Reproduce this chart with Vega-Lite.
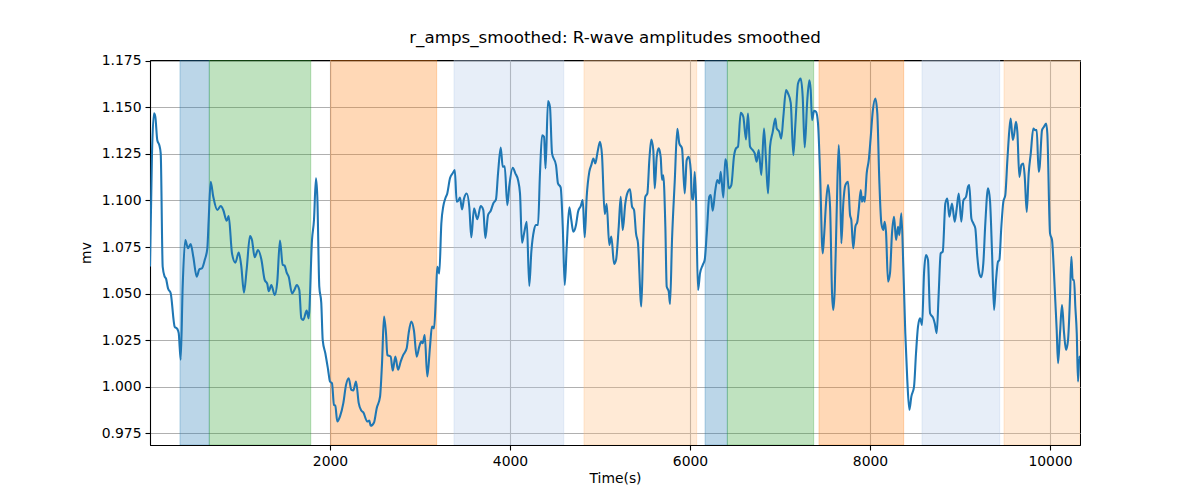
{
  "$schema": "https://vega.github.io/schema/vega-lite/v6.json",
  "width": 930,
  "height": 385,
  "autosize": {"type": "none"},
  "padding": {"left": 150, "top": 60, "right": 120, "bottom": 55},
  "background": "white",
  "config": {
    "font": "DejaVu Sans",
    "view": {"stroke": "black", "strokeWidth": 1},
    "axis": {
      "labelFont": "DejaVu Sans", "labelFontSize": 13.9, "labelColor": "black",
      "titleFont": "DejaVu Sans", "titleFontSize": 13.9, "titleFontWeight": "normal", "titleColor": "black",
      "tickColor": "black", "tickSize": 5, "tickWidth": 1.1,
      "domainColor": "black", "domainWidth": 1.1,
      "gridColor": "#b0b0b0", "gridWidth": 1.1, "labelPadding": 4
    }
  },
  "title": {"text": "r_amps_smoothed: R-wave amplitudes smoothed", "fontSize": 16.7, "fontWeight": "normal", "font": "DejaVu Sans", "color": "black", "anchor": "middle", "offset": 7},
  "datasets": {
    "bands": [
      {"start": 333, "end": 659, "k": "b"},
      {"start": 659, "end": 1786, "k": "g"},
      {"start": 2008, "end": 3185, "k": "o"},
      {"start": 3378, "end": 4597, "k": "lb"},
      {"start": 4822, "end": 6074, "k": "lo"},
      {"start": 6167, "end": 6415, "k": "b"},
      {"start": 6415, "end": 7374, "k": "g"},
      {"start": 7433, "end": 8374, "k": "o"},
      {"start": 8578, "end": 9441, "k": "lb"},
      {"start": 9489, "end": 10333, "k": "lo"}
    ],
    "amps": [
      {"t":0,"v":1.065},{"t":22,"v":1.125},{"t":44,"v":1.1468},{"t":59,"v":1.145},{"t":81,"v":1.1324},{"t":103,"v":1.1298},{"t":119,"v":1.1253},{"t":141,"v":1.0644},{"t":163,"v":1.0591},{"t":178,"v":1.058},{"t":200,"v":1.0528},{"t":230,"v":1.0501},{"t":274,"v":1.0322},{"t":303,"v":1.031},{"t":319,"v":1.0287},{"t":341,"v":1.0144},{"t":363,"v":1.0537},{"t":392,"v":1.0788},{"t":422,"v":1.0743},{"t":452,"v":1.0766},{"t":481,"v":1.0698},{"t":519,"v":1.0591},{"t":548,"v":1.063},{"t":578,"v":1.0636},{"t":608,"v":1.068},{"t":637,"v":1.0743},{"t":652,"v":1.0895},{"t":674,"v":1.1101},{"t":703,"v":1.102},{"t":748,"v":1.0949},{"t":786,"v":1.097},{"t":814,"v":1.0949},{"t":852,"v":1.0891},{"t":874,"v":1.0916},{"t":911,"v":1.0716},{"t":948,"v":1.0666},{"t":986,"v":1.072},{"t":1014,"v":1.0648},{"t":1044,"v":1.0505},{"t":1074,"v":1.063},{"t":1111,"v":1.0809},{"t":1133,"v":1.0788},{"t":1163,"v":1.0695},{"t":1200,"v":1.0734},{"t":1237,"v":1.0684},{"t":1274,"v":1.0573},{"t":1303,"v":1.0552},{"t":1319,"v":1.0512},{"t":1348,"v":1.0545},{"t":1386,"v":1.0492},{"t":1414,"v":1.0563},{"t":1444,"v":1.0785},{"t":1474,"v":1.0655},{"t":1496,"v":1.065},{"t":1519,"v":1.0612},{"t":1541,"v":1.059},{"t":1578,"v":1.0501},{"t":1608,"v":1.0523},{"t":1630,"v":1.0546},{"t":1659,"v":1.0519},{"t":1681,"v":1.0367},{"t":1703,"v":1.0358},{"t":1741,"v":1.0408},{"t":1763,"v":1.0367},{"t":1800,"v":1.0788},{"t":1822,"v":1.0895},{"t":1844,"v":1.1119},{"t":1859,"v":1.102},{"t":1881,"v":1.0537},{"t":1903,"v":1.045},{"t":1919,"v":1.025},{"t":1948,"v":1.0179},{"t":1978,"v":1.0093},{"t":2000,"v":1.0027},{"t":2022,"v":1.0018},{"t":2044,"v":0.9902},{"t":2059,"v":0.9897},{"t":2081,"v":0.9812},{"t":2111,"v":0.984},{"t":2148,"v":0.9911},{"t":2178,"v":1.0009},{"t":2208,"v":1.0045},{"t":2237,"v":0.9982},{"t":2259,"v":0.9979},{"t":2289,"v":1.0027},{"t":2319,"v":0.9911},{"t":2348,"v":0.9871},{"t":2370,"v":0.9861},{"t":2414,"v":0.9812},{"t":2437,"v":0.9817},{"t":2452,"v":0.9789},{"t":2489,"v":0.9807},{"t":2519,"v":0.9884},{"t":2556,"v":0.9946},{"t":2578,"v":1.0126},{"t":2600,"v":1.0376},{"t":2622,"v":1.0287},{"t":2637,"v":1.017},{"t":2674,"v":1.0161},{"t":2697,"v":1.0086},{"t":2726,"v":1.0161},{"t":2756,"v":1.009},{"t":2786,"v":1.0135},{"t":2814,"v":1.017},{"t":2852,"v":1.0206},{"t":2874,"v":1.0287},{"t":2903,"v":1.035},{"t":2933,"v":1.03},{"t":2963,"v":1.0161},{"t":2992,"v":1.0215},{"t":3014,"v":1.0242},{"t":3030,"v":1.0233},{"t":3052,"v":1.0277},{"t":3081,"v":1.0054},{"t":3111,"v":1.0215},{"t":3133,"v":1.0322},{"t":3156,"v":1.0313},{"t":3178,"v":1.0501},{"t":3192,"v":1.0644},{"t":3214,"v":1.0608},{"t":3237,"v":1.0877},{"t":3259,"v":1.097},{"t":3281,"v":1.1011},{"t":3303,"v":1.1038},{"t":3333,"v":1.1119},{"t":3363,"v":1.1146},{"t":3386,"v":1.1163},{"t":3408,"v":1.0993},{"t":3430,"v":1.1002},{"t":3444,"v":1.1016},{"t":3467,"v":1.0952},{"t":3489,"v":1.1011},{"t":3519,"v":1.1038},{"t":3548,"v":1.0963},{"t":3570,"v":1.0802},{"t":3600,"v":1.0958},{"t":3637,"v":1.0899},{"t":3674,"v":1.097},{"t":3703,"v":1.0949},{"t":3726,"v":1.0797},{"t":3756,"v":1.0922},{"t":3786,"v":1.0945},{"t":3814,"v":1.0984},{"t":3844,"v":1.1006},{"t":3867,"v":1.1146},{"t":3897,"v":1.1285},{"t":3919,"v":1.1181},{"t":3941,"v":1.1184},{"t":3970,"v":1.0975},{"t":3992,"v":1.1078},{"t":4030,"v":1.1176},{"t":4059,"v":1.1146},{"t":4089,"v":1.111},{"t":4111,"v":1.1038},{"t":4133,"v":1.0773},{"t":4156,"v":1.0823},{"t":4186,"v":1.0886},{"t":4214,"v":1.0541},{"t":4237,"v":1.0725},{"t":4267,"v":1.0841},{"t":4289,"v":1.0868},{"t":4311,"v":1.0868},{"t":4333,"v":1.1146},{"t":4356,"v":1.1351},{"t":4378,"v":1.1342},{"t":4395,"v":1.1172},{"t":4422,"v":1.1535},{"t":4444,"v":1.1503},{"t":4467,"v":1.1253},{"t":4511,"v":1.119},{"t":4533,"v":1.1092},{"t":4563,"v":1.107},{"t":4586,"v":1.0859},{"t":4608,"v":1.0546},{"t":4630,"v":1.0752},{"t":4659,"v":1.0963},{"t":4681,"v":1.0895},{"t":4703,"v":1.0832},{"t":4733,"v":1.0868},{"t":4756,"v":1.094},{"t":4786,"v":1.097},{"t":4808,"v":1.1002},{"t":4830,"v":1.0802},{"t":4852,"v":1.102},{"t":4881,"v":1.1154},{"t":4903,"v":1.119},{"t":4926,"v":1.1226},{"t":4948,"v":1.1199},{"t":4970,"v":1.1253},{"t":5000,"v":1.1315},{"t":5022,"v":1.1244},{"t":5052,"v":1.0927},{"t":5074,"v":1.0981},{"t":5103,"v":1.0761},{"t":5126,"v":1.0806},{"t":5156,"v":1.0659},{"t":5178,"v":1.068},{"t":5208,"v":1.0859},{"t":5230,"v":1.102},{"t":5252,"v":1.0841},{"t":5281,"v":1.0984},{"t":5303,"v":1.1038},{"t":5333,"v":1.106},{"t":5356,"v":1.0967},{"t":5378,"v":1.0949},{"t":5400,"v":1.0823},{"t":5422,"v":1.077},{"t":5459,"v":1.043},{"t":5481,"v":1.0788},{"t":5503,"v":1.102},{"t":5526,"v":1.1038},{"t":5548,"v":1.1217},{"t":5570,"v":1.1328},{"t":5592,"v":1.1271},{"t":5608,"v":1.1065},{"t":5630,"v":1.1235},{"t":5652,"v":1.128},{"t":5674,"v":1.1235},{"t":5689,"v":1.111},{"t":5703,"v":1.1136},{"t":5726,"v":1.0859},{"t":5741,"v":1.0537},{"t":5763,"v":1.0512},{"t":5778,"v":1.0444},{"t":5800,"v":1.0788},{"t":5830,"v":1.1101},{"t":5859,"v":1.1385},{"t":5881,"v":1.1307},{"t":5911,"v":1.128},{"t":5941,"v":1.1038},{"t":5963,"v":1.1217},{"t":5986,"v":1.1235},{"t":6008,"v":1.1163},{"t":6022,"v":1.1006},{"t":6037,"v":1.1006},{"t":6052,"v":1.1154},{"t":6067,"v":1.1002},{"t":6089,"v":1.0519},{"t":6111,"v":1.0608},{"t":6141,"v":1.0653},{"t":6163,"v":1.068},{"t":6186,"v":1.0823},{"t":6214,"v":1.102},{"t":6230,"v":1.1029},{"t":6252,"v":1.0945},{"t":6281,"v":1.1056},{"t":6303,"v":1.111},{"t":6326,"v":1.1092},{"t":6341,"v":1.1154},{"t":6370,"v":1.1016},{"t":6392,"v":1.1221},{"t":6408,"v":1.1196},{"t":6430,"v":1.1065},{"t":6459,"v":1.1083},{"t":6489,"v":1.1239},{"t":6511,"v":1.128},{"t":6533,"v":1.1289},{"t":6563,"v":1.1471},{"t":6592,"v":1.145},{"t":6622,"v":1.1328},{"t":6644,"v":1.1467},{"t":6667,"v":1.1289},{"t":6697,"v":1.1271},{"t":6719,"v":1.1253},{"t":6741,"v":1.1208},{"t":6763,"v":1.1271},{"t":6792,"v":1.1137},{"t":6822,"v":1.1387},{"t":6844,"v":1.1217},{"t":6867,"v":1.1038},{"t":6889,"v":1.1289},{"t":6919,"v":1.1369},{"t":6948,"v":1.1441},{"t":6963,"v":1.1387},{"t":6992,"v":1.1369},{"t":7014,"v":1.1333},{"t":7037,"v":1.145},{"t":7067,"v":1.1593},{"t":7089,"v":1.1575},{"t":7119,"v":1.1525},{"t":7148,"v":1.1244},{"t":7170,"v":1.1405},{"t":7200,"v":1.1629},{"t":7230,"v":1.1655},{"t":7252,"v":1.1557},{"t":7274,"v":1.1285},{"t":7303,"v":1.154},{"t":7326,"v":1.1646},{"t":7341,"v":1.1593},{"t":7356,"v":1.1432},{"t":7378,"v":1.1482},{"t":7400,"v":1.1477},{"t":7422,"v":1.1414},{"t":7444,"v":1.1163},{"t":7474,"v":1.0716},{"t":7489,"v":1.0805},{"t":7511,"v":1.0984},{"t":7533,"v":1.1083},{"t":7556,"v":1.0966},{"t":7578,"v":1.0501},{"t":7592,"v":1.0412},{"t":7608,"v":1.0519},{"t":7630,"v":1.0948},{"t":7652,"v":1.1298},{"t":7667,"v":1.1128},{"t":7681,"v":1.077},{"t":7703,"v":1.0984},{"t":7726,"v":1.1083},{"t":7756,"v":1.1101},{"t":7778,"v":1.0922},{"t":7792,"v":1.0896},{"t":7814,"v":1.0743},{"t":7837,"v":1.0859},{"t":7859,"v":1.0886},{"t":7874,"v":1.0948},{"t":7897,"v":1.1056},{"t":7911,"v":1.0993},{"t":7926,"v":1.102},{"t":7941,"v":1.0993},{"t":7963,"v":1.1146},{"t":7986,"v":1.1217},{"t":8008,"v":1.1342},{"t":8030,"v":1.1477},{"t":8059,"v":1.1548},{"t":8081,"v":1.1468},{"t":8103,"v":1.111},{"t":8126,"v":1.0877},{"t":8148,"v":1.0842},{"t":8163,"v":1.0886},{"t":8178,"v":1.0827},{"t":8200,"v":1.0564},{"t":8222,"v":1.0609},{"t":8244,"v":1.0823},{"t":8267,"v":1.0913},{"t":8289,"v":1.0788},{"t":8311,"v":1.0859},{"t":8326,"v":1.0814},{"t":8348,"v":1.0931},{"t":8370,"v":1.0644},{"t":8392,"v":1.0287},{"t":8414,"v":1.0036},{"t":8437,"v":0.9875},{"t":8459,"v":0.9946},{"t":8489,"v":1.0},{"t":8511,"v":1.0179},{"t":8533,"v":1.0322},{"t":8556,"v":1.0367},{"t":8578,"v":1.0331},{"t":8600,"v":1.0609},{"t":8622,"v":1.0707},{"t":8644,"v":1.068},{"t":8667,"v":1.0394},{"t":8703,"v":1.0367},{"t":8719,"v":1.034},{"t":8741,"v":1.0287},{"t":8763,"v":1.0501},{"t":8785,"v":1.0716},{"t":8808,"v":1.0725},{"t":8837,"v":1.0984},{"t":8859,"v":1.1011},{"t":8881,"v":1.0913},{"t":8911,"v":1.0984},{"t":8941,"v":1.0886},{"t":8963,"v":1.0957},{"t":8986,"v":1.1038},{"t":9014,"v":1.0886},{"t":9037,"v":1.1},{"t":9067,"v":1.102},{"t":9089,"v":1.1074},{"t":9103,"v":1.1083},{"t":9126,"v":1.0904},{"t":9148,"v":1.0877},{"t":9170,"v":1.085},{"t":9192,"v":1.0698},{"t":9214,"v":1.0609},{"t":9237,"v":1.0588},{"t":9259,"v":1.0663},{"t":9281,"v":1.0877},{"t":9311,"v":1.1065},{"t":9333,"v":1.1},{"t":9356,"v":1.0716},{"t":9378,"v":1.0412},{"t":9400,"v":1.0573},{"t":9422,"v":1.0671},{"t":9437,"v":1.068},{"t":9459,"v":1.0859},{"t":9481,"v":1.0993},{"t":9503,"v":1.1029},{"t":9526,"v":1.1217},{"t":9548,"v":1.1378},{"t":9563,"v":1.1441},{"t":9586,"v":1.1325},{"t":9600,"v":1.1352},{"t":9622,"v":1.1423},{"t":9637,"v":1.1369},{"t":9659,"v":1.1127},{"t":9681,"v":1.119},{"t":9703,"v":1.1199},{"t":9719,"v":1.1127},{"t":9741,"v":1.0939},{"t":9763,"v":1.1145},{"t":9786,"v":1.1253},{"t":9814,"v":1.1387},{"t":9837,"v":1.1378},{"t":9852,"v":1.1378},{"t":9874,"v":1.1154},{"t":9885,"v":1.1181},{"t":9911,"v":1.1378},{"t":9933,"v":1.1396},{"t":9956,"v":1.1414},{"t":9970,"v":1.136},{"t":10000,"v":1.0823},{"t":10022,"v":1.0788},{"t":10044,"v":1.0609},{"t":10059,"v":1.0456},{"t":10074,"v":1.0305},{"t":10089,"v":1.0126},{"t":10111,"v":1.0287},{"t":10133,"v":1.0438},{"t":10156,"v":1.0287},{"t":10178,"v":1.0197},{"t":10200,"v":1.025},{"t":10222,"v":1.0483},{"t":10237,"v":1.0698},{"t":10252,"v":1.0573},{"t":10267,"v":1.0573},{"t":10281,"v":1.043},{"t":10297,"v":1.0287},{"t":10311,"v":1.0027},{"t":10326,"v":1.0161},{"t":10333,"v":1.014}
    ]
  },
  "layer": [
    {
      "data": {"name": "bands"},
      "mark": {"type": "rect", "fillOpacity": 0.3, "strokeOpacity": 0.3, "strokeWidth": 1, "clip": true},
      "encoding": {
        "x": {"field": "start", "type": "quantitative", "scale": {"domain": [0, 10333], "nice": false, "zero": false},
              "axis": {"values": [2000, 4000, 6000, 8000, 10000], "format": "d", "title": "Time(s)", "grid": true, "titlePadding": 4}},
        "x2": {"field": "end"},
        "fill": {"field": "k", "type": "nominal", "legend": null,
                 "scale": {"domain": ["b", "g", "o", "lb", "lo"], "range": ["#1f77b4", "#2ca02c", "#ff7f0e", "#aec7e8", "#ffbb78"]}},
        "stroke": {"field": "k", "type": "nominal", "legend": null,
                 "scale": {"domain": ["b", "g", "o", "lb", "lo"], "range": ["#1f77b4", "#2ca02c", "#ff7f0e", "#aec7e8", "#ffbb78"]}}
      }
    },
    {
      "data": {"name": "amps"},
      "mark": {"type": "line", "color": "#1f77b4", "strokeWidth": 2.08, "clip": true, "interpolate": "monotone", "strokeJoin": "round", "strokeCap": "round"},
      "encoding": {
        "x": {"field": "t", "type": "quantitative"},
        "y": {"field": "v", "type": "quantitative", "scale": {"domain": [0.9686, 1.1755], "nice": false, "zero": false},
              "axis": {"values": [0.975, 1.0, 1.025, 1.05, 1.075, 1.1, 1.125, 1.15, 1.175], "format": ".3f", "title": "mv", "grid": true, "titlePadding": 8}}
      }
    }
  ]
}
